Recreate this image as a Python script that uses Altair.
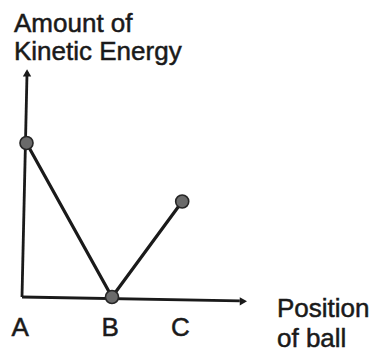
import altair as alt
import pandas as pd

# Ball positions and the kinetic energy at each one
positions = ["A", "B", "C"]
position_x = [0.05, 1.0, 1.78]
kinetic_energy = [10.0, 0.0, 6.2]

# Where the position letters sit along the horizontal axis
tick_labels = ["A", "B", "C"]
tick_x = [-0.02, 0.98, 1.76]

# Hand-drawn axes: start and end of each arrow (slightly skewed strokes)
axis_names = ["energy", "position"]
axis_x0 = [0.0, 0.0]
axis_y0 = [0.0, 0.0]
axis_x1 = [0.056, 2.42]
axis_y1 = [14.6, -0.25]
arrow_shapes = ["triangle-up", "triangle-right"]
arrow_x = [0.056, 2.46]
arrow_y = [14.55, -0.28]

# Axis titles, one entry per printed line
y_title_lines = ["Amount of", "Kinetic Energy"]
x_title_lines = ["Position", "of ball"]

W, H = 375, 353
FONT = "Liberation Sans"
INK = "#1a1a1a"

x_scale = alt.Scale(domain=[-22 / 90, (W - 22) / 90], nice=False, zero=False)
y_scale = alt.Scale(domain=[-(H - 297) / 15.4, 297 / 15.4], nice=False, zero=False)

pts = pd.DataFrame({"pos": positions, "x": position_x, "ke": kinetic_energy})
ticks = pd.DataFrame({"label": tick_labels, "x": tick_x})
axes = pd.DataFrame({"name": axis_names, "x0": axis_x0, "y0": axis_y0,
                     "x1": axis_x1, "y1": axis_y1})
heads = pd.DataFrame({"name": axis_names, "shape": arrow_shapes,
                      "x": arrow_x, "y": arrow_y})

X = lambda f: alt.X(f, type="quantitative", scale=x_scale, axis=None)
Y = lambda f: alt.Y(f, type="quantitative", scale=y_scale, axis=None)

axis_lines = alt.Chart(axes).mark_rule(color=INK, strokeWidth=2.8).encode(
    x=X("x0"), y=Y("y0"), x2="x1", y2="y1"
)

arrowheads = alt.Chart(heads).mark_point(
    filled=True, size=70, color=INK, opacity=1
).encode(
    x=X("x"), y=Y("y"),
    shape=alt.Shape("shape:N", scale=None),
)

energy_line = alt.Chart(pts).mark_line(color=INK, strokeWidth=3.2).encode(
    x=X("x"), y=Y("ke"), order="x:Q"
)

energy_dots = alt.Chart(pts).mark_point(
    filled=True, size=170, fill="#6a6a6a", stroke="#262626",
    strokeWidth=1.6, opacity=1
).encode(x=X("x"), y=Y("ke"))

# Slight outline on the glyphs gives the heavier printed look
text_style = dict(font=FONT, fontSize=26, color=INK, stroke=INK,
                  strokeWidth=0.5, baseline="alphabetic")

tick_text = alt.Chart(ticks).mark_text(align="center", **text_style).encode(
    x=X("x"), y=alt.value(336), text="label:N"
)

y_title = alt.Chart(pd.DataFrame({"t": [y_title_lines]})).mark_text(
    align="left", lineHeight=28, **text_style
).encode(x=alt.value(14), y=alt.value(32), text="t")

x_title = alt.Chart(pd.DataFrame({"t": [x_title_lines]})).mark_text(
    align="left", lineHeight=30, **text_style
).encode(x=alt.value(277), y=alt.value(317), text="t")

chart = alt.layer(
    axis_lines, arrowheads, energy_line, energy_dots, tick_text, y_title, x_title
).properties(
    width=W, height=H, padding=0, autosize=alt.AutoSizeParams(type="none"),
    background="white"
).configure_view(stroke=None)

chart.save("out.html", embed_options={"renderer": "svg", "actions": False})
